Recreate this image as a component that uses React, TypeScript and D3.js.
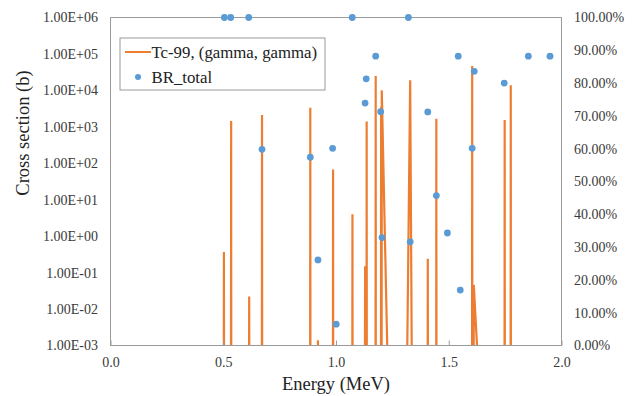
import React, { useEffect, useRef } from 'react';
import * as d3 from 'd3';

// Tc-99 (gamma, gamma): each peak is energy (MeV) and cross section (b)
const peakEnergy = [0.503, 0.535, 0.615, 0.672, 0.886, 0.92, 0.987, 1.073, 1.129, 1.136, 1.176, 1.2, 1.203, 1.329, 1.407, 1.445, 1.604, 1.611, 1.748, 1.775];
const peakSigma = [0.37, 1450, 0.022, 2100, 3360, 0.0014, 68, 4, 0.15, 1390, 25000, 3500, 10000, 19000, 0.24, 1670, 47000, 0.046, 1540, 13800];
// energies where the line drops back below the axis on each side of a peak
const peakLeft = [0.5024, 0.5344, 0.6144, 0.6714, 0.8854, 0.9194, 0.9864, 1.0724, 1.1284, 1.1354, 1.1754, 1.1994, 1.2024, 1.3144, 1.4064, 1.4444, 1.6034, 1.6104, 1.7474, 1.7744];
const peakRight = [0.5036, 0.5356, 0.6156, 0.6726, 0.8866, 0.9206, 0.9876, 1.0736, 1.1296, 1.1366, 1.1766, 1.2006, 1.2306, 1.3366, 1.4076, 1.4456, 1.6046, 1.634, 1.7486, 1.7756];
const floorSigma = 1e-4;

// BR_total (secondary axis)
const brEnergy = [0.505, 0.533, 0.613, 1.072, 1.321, 1.176, 1.134, 1.129, 1.198, 0.672, 0.886, 0.985, 1.445, 1.407, 1.542, 1.613, 1.604, 1.746, 1.853, 1.949, 1.329, 1.494, 1.551, 0.92, 1.001, 1.204];
const brValue = [1.0, 1.0, 1.0, 1.0, 1.0, 0.882, 0.813, 0.739, 0.713, 0.598, 0.574, 0.601, 0.457, 0.712, 0.882, 0.836, 0.601, 0.8, 0.882, 0.882, 0.316, 0.343, 0.169, 0.261, 0.065, 0.329];

const xTicks = [0, 0.5, 1, 1.5, 2];
const yLeftTicks = [1e-3, 1e-2, 1e-1, 1, 1e1, 1e2, 1e3, 1e4, 1e5, 1e6];
const yRightTicks = d3.range(0, 11).map(i => i / 10);

const W = 641, H = 396;
const ORANGE = '#ED7D31', BLUE = '#5B9BD5', FRAME = '#9a9a9a', TXT = '#3a3a3a';
const FONT = '"Liberation Serif", "Times New Roman", serif';

function sciLabel(v: number) {
    const [m, e] = v.toExponential(2).split('e');
    const sign = e[0];
    return m + 'E' + sign + e.slice(1).padStart(2, '0');
}

export default function App() {
    const ref = useRef<SVGSVGElement>(null);

    useEffect(() => {
        const svg = d3.select(ref.current);
        svg.selectAll('*').remove();

        const left = 110.5, right = 561.5, top = 17.5, bottom = 345.5;
        const x = d3.scaleLinear().domain([0, 2]).range([left, right]);
        const yL = d3.scaleLog().domain([1e-3, 1e6]).range([bottom, top]);
        const yR = d3.scaleLinear().domain([0, 1]).range([bottom, top]);

        svg.append('clipPath').attr('id', 'plotclip')
            .append('rect')
            .attr('x', left).attr('y', top)
            .attr('width', right - left).attr('height', bottom - top);

        // spectrum points: floor -> peak -> floor for every peak
        const pts: [number, number][] = [];
        peakEnergy.forEach((e, i) => {
            pts.push([peakLeft[i], floorSigma]);
            pts.push([e, peakSigma[i]]);
            pts.push([peakRight[i], floorSigma]);
        });

        const line = d3.line<[number, number]>()
            .x(d => x(d[0]))
            .y(d => yL(d[1]));

        svg.append('path')
            .datum(pts)
            .attr('clip-path', 'url(#plotclip)')
            .attr('d', line)
            .attr('fill', 'none')
            .attr('stroke', ORANGE)
            .attr('stroke-width', 2.2)
            .attr('stroke-linejoin', 'miter');

        // frame
        svg.append('rect')
            .attr('x', left).attr('y', top)
            .attr('width', right - left).attr('height', bottom - top)
            .attr('fill', 'none')
            .attr('stroke', FRAME)
            .attr('stroke-width', 1);

        // bottom axis, ticks point inward
        const xAxis = svg.append('g')
            .attr('transform', `translate(0,${bottom})`)
            .call(d3.axisBottom(x).tickValues(xTicks).tickFormat(d3.format('.1f')).tickSizeInner(-5).tickSizeOuter(0).tickPadding(12));
        xAxis.select('.domain').remove();
        xAxis.selectAll('line').attr('stroke', FRAME);
        xAxis.selectAll('text').attr('fill', TXT).attr('font-family', FONT).style('font-size', '14px');

        const yAxisL = svg.append('g')
            .attr('transform', `translate(${left},0)`)
            .call(d3.axisLeft(yL).tickValues(yLeftTicks).tickFormat(d => sciLabel(+d)).tickSize(0).tickPadding(12.5));
        yAxisL.select('.domain').remove();
        yAxisL.selectAll('text').attr('fill', TXT).attr('font-family', FONT).style('font-size', '14px');

        const yAxisR = svg.append('g')
            .attr('transform', `translate(${right},0)`)
            .call(d3.axisRight(yR).tickValues(yRightTicks).tickFormat(d3.format('.2%')).tickSize(0).tickPadding(12.5));
        yAxisR.select('.domain').remove();
        yAxisR.selectAll('text').attr('fill', TXT).attr('font-family', FONT).style('font-size', '14px');
        xAxis.attr('font-family', FONT);
        yAxisL.attr('font-family', FONT);
        yAxisR.attr('font-family', FONT);

        // BR_total dots
        svg.append('g')
            .selectAll('circle')
            .data(brEnergy)
            .enter()
            .append('circle')
            .attr('cx', d => x(d))
            .attr('cy', (d, i) => yR(brValue[i]))
            .attr('r', 3.4)
            .attr('fill', BLUE);

        // axis titles
        svg.append('text')
            .attr('transform', 'translate(29,133) rotate(-90)')
            .attr('text-anchor', 'middle')
            .attr('fill', '#222')
            .attr('font-family', FONT).style('font-size', '18.5px')
            .text('Cross section (b)');

        svg.append('text')
            .attr('x', (left + right) / 2).attr('y', 390)
            .attr('text-anchor', 'middle')
            .attr('fill', '#222')
            .attr('font-family', FONT).style('font-size', '18.5px')
            .text('Energy (MeV)');

        // legend
        const lg = svg.append('g');
        lg.append('rect')
            .attr('x', 120).attr('y', 38).attr('width', 205).attr('height', 52)
            .attr('fill', '#fff').attr('stroke', FRAME);
        lg.append('line')
            .attr('x1', 125).attr('x2', 151).attr('y1', 52).attr('y2', 52)
            .attr('stroke', ORANGE).attr('stroke-width', 2);
        lg.append('text')
            .attr('x', 151.5).attr('y', 58)
            .attr('fill', '#222')
            .attr('font-family', FONT).style('font-size', '16.8px')
            .text('Tc-99, (gamma, gamma)');
        lg.append('circle')
            .attr('cx', 138).attr('cy', 77).attr('r', 3)
            .attr('fill', BLUE);
        lg.append('text')
            .attr('x', 151.5).attr('y', 83)
            .attr('fill', '#222')
            .attr('font-family', FONT).style('font-size', '16.8px')
            .text('BR_total');
    }, []);

    return (
        <svg ref={ref} width={W} height={H}
            style={{ position: 'absolute', left: 0, top: 0, background: '#fff' }} />
    );
}
